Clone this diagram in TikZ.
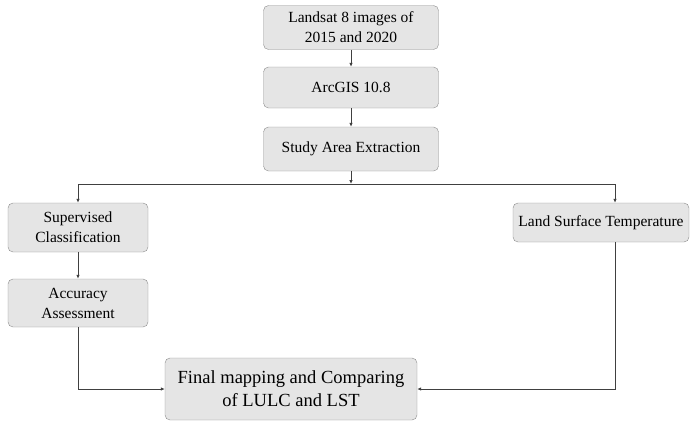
\documentclass[tikz,border=0pt]{standalone}
\usepackage{fontspec}
\setmainfont{Liberation Serif}
\usetikzlibrary{arrows.meta,positioning}

\begin{document}
\begin{tikzpicture}[x=1pt, y=-1pt,
      box/.style={draw=black!45, rounded corners=5pt, fill=black!10, align=center,
          inner sep=0pt, font=\fontsize{15.5}{20}\selectfont},
      bigbox/.style={box, font=\fontsize{18.5}{23}\selectfont},
      arrow/.style={-{Latex[length=4pt,width=3.5pt]}, line width=0.8pt, draw=black!75}
    ]
    \useasboundingbox (0,0) rectangle (691,421);
    \node[box, minimum width=175pt, minimum height=44pt] (landsat) at (351,27.5) {Landsat 8 images of\\2015 and 2020};
    \node[box, minimum width=175pt, minimum height=41pt] (arcgis) at (351,87.5) {ArcGIS 10.8};
    \node[box, minimum width=175pt, minimum height=44pt] (study) at (351,149) {Study Area Extraction};
    \node[box, minimum width=140pt, minimum height=49pt] (supervised) at (78,227.5) {Supervised\\Classification};
    \node[box, minimum width=140pt, minimum height=48pt] (accuracy) at (78,303) {Accuracy\\Assessment};
    \node[box, minimum width=176pt, minimum height=39pt] (lst) at (601,222.5) {Land Surface Temperature};
    \node[bigbox, minimum width=252pt, minimum height=62pt] (final) at (291,389) {Final mapping and Comparing\\of LULC and LST};
    \coordinate (split) at (351,184);
    \draw[arrow] (landsat) -- (arcgis);
    \draw[arrow] (arcgis) -- (study);
    \draw[arrow] (study) -- (split);
    \draw[arrow] (split) -| (supervised);
    \draw[arrow] (split) -| ([xshift=14pt]lst.north);
    \draw[arrow] (supervised) -- (accuracy);
    \draw[arrow] (accuracy) |- (final.west);
    \draw[arrow] ([xshift=14pt]lst.south) |- (final.east);
  \end{tikzpicture}
\end{document}
